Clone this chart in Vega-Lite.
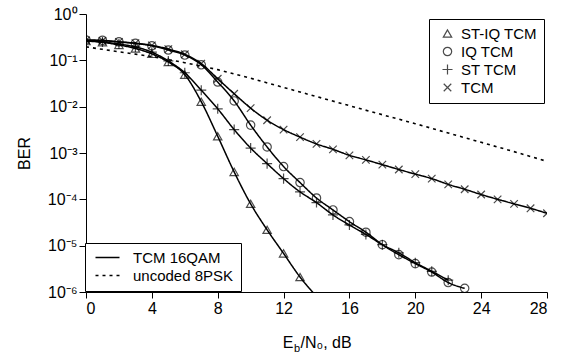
{
  "$schema": "https://vega.github.io/schema/vega-lite/v6.json",
  "width": 461,
  "height": 278,
  "autosize": {"type": "none"},
  "padding": {"left": 86, "top": 14, "right": 15, "bottom": 60},
  "config": {
    "view": {"stroke": null},
    "font": "Liberation Sans",
    "axis": {"grid": false, "domainColor": "black", "tickColor": "black", "labelColor": "black", "titleColor": "black", "titleFontWeight": "normal", "labelFont": "Liberation Sans", "titleFont": "Liberation Sans"},
    "legend": {"labelFont": "Liberation Sans", "labelColor": "black"}
  },
  "data": {"values": [
    {"s":"ST-IQ TCM","t":"TCM 16QAM","x":0,"y":0.26},{"s":"ST-IQ TCM","t":"TCM 16QAM","x":1,"y":0.245},{"s":"ST-IQ TCM","t":"TCM 16QAM","x":2,"y":0.215},{"s":"ST-IQ TCM","t":"TCM 16QAM","x":3,"y":0.18},{"s":"ST-IQ TCM","t":"TCM 16QAM","x":4,"y":0.138},{"s":"ST-IQ TCM","t":"TCM 16QAM","x":5,"y":0.092},{"s":"ST-IQ TCM","t":"TCM 16QAM","x":6,"y":0.049},{"s":"ST-IQ TCM","t":"TCM 16QAM","x":7,"y":0.0128},{"s":"ST-IQ TCM","t":"TCM 16QAM","x":8,"y":0.0023},{"s":"ST-IQ TCM","t":"TCM 16QAM","x":9,"y":0.00039},{"s":"ST-IQ TCM","t":"TCM 16QAM","x":10,"y":0.00008},{"s":"ST-IQ TCM","t":"TCM 16QAM","x":11,"y":0.000022},{"s":"ST-IQ TCM","t":"TCM 16QAM","x":12,"y":0.0000068},{"s":"ST-IQ TCM","t":"TCM 16QAM","x":13,"y":0.0000021},{"s":"ST-IQ TCM","t":"TCM 16QAM","x":14,"y":0.0000008},
    {"s":"IQ TCM","t":"TCM 16QAM","x":0,"y":0.275},{"s":"IQ TCM","t":"TCM 16QAM","x":1,"y":0.27},{"s":"IQ TCM","t":"TCM 16QAM","x":2,"y":0.25},{"s":"IQ TCM","t":"TCM 16QAM","x":3,"y":0.232},{"s":"IQ TCM","t":"TCM 16QAM","x":4,"y":0.206},{"s":"IQ TCM","t":"TCM 16QAM","x":5,"y":0.167},{"s":"IQ TCM","t":"TCM 16QAM","x":6,"y":0.13},{"s":"IQ TCM","t":"TCM 16QAM","x":7,"y":0.08},{"s":"IQ TCM","t":"TCM 16QAM","x":8,"y":0.034},{"s":"IQ TCM","t":"TCM 16QAM","x":9,"y":0.0133},{"s":"IQ TCM","t":"TCM 16QAM","x":10,"y":0.004},{"s":"IQ TCM","t":"TCM 16QAM","x":11,"y":0.00135},{"s":"IQ TCM","t":"TCM 16QAM","x":12,"y":0.00051},{"s":"IQ TCM","t":"TCM 16QAM","x":13,"y":0.00023},{"s":"IQ TCM","t":"TCM 16QAM","x":14,"y":0.000107},{"s":"IQ TCM","t":"TCM 16QAM","x":15,"y":0.000059},{"s":"IQ TCM","t":"TCM 16QAM","x":16,"y":0.000033},{"s":"IQ TCM","t":"TCM 16QAM","x":17,"y":0.0000195},{"s":"IQ TCM","t":"TCM 16QAM","x":18,"y":0.0000105},{"s":"IQ TCM","t":"TCM 16QAM","x":19,"y":0.0000064},{"s":"IQ TCM","t":"TCM 16QAM","x":20,"y":0.0000041},{"s":"IQ TCM","t":"TCM 16QAM","x":21,"y":0.0000027},{"s":"IQ TCM","t":"TCM 16QAM","x":22,"y":0.0000016},{"s":"IQ TCM","t":"TCM 16QAM","x":23,"y":0.0000012},
    {"s":"ST TCM","t":"TCM 16QAM","x":0,"y":0.265},{"s":"ST TCM","t":"TCM 16QAM","x":1,"y":0.25},{"s":"ST TCM","t":"TCM 16QAM","x":2,"y":0.225},{"s":"ST TCM","t":"TCM 16QAM","x":3,"y":0.195},{"s":"ST TCM","t":"TCM 16QAM","x":4,"y":0.15},{"s":"ST TCM","t":"TCM 16QAM","x":5,"y":0.097},{"s":"ST TCM","t":"TCM 16QAM","x":6,"y":0.054},{"s":"ST TCM","t":"TCM 16QAM","x":7,"y":0.0227},{"s":"ST TCM","t":"TCM 16QAM","x":8,"y":0.009},{"s":"ST TCM","t":"TCM 16QAM","x":9,"y":0.0032},{"s":"ST TCM","t":"TCM 16QAM","x":10,"y":0.00128},{"s":"ST TCM","t":"TCM 16QAM","x":11,"y":0.00059},{"s":"ST TCM","t":"TCM 16QAM","x":12,"y":0.00028},{"s":"ST TCM","t":"TCM 16QAM","x":13,"y":0.000145},{"s":"ST TCM","t":"TCM 16QAM","x":14,"y":0.000085},{"s":"ST TCM","t":"TCM 16QAM","x":15,"y":0.000046},{"s":"ST TCM","t":"TCM 16QAM","x":16,"y":0.000028},{"s":"ST TCM","t":"TCM 16QAM","x":17,"y":0.0000175},{"s":"ST TCM","t":"TCM 16QAM","x":18,"y":0.0000105},{"s":"ST TCM","t":"TCM 16QAM","x":19,"y":0.000007},{"s":"ST TCM","t":"TCM 16QAM","x":20,"y":0.0000043},{"s":"ST TCM","t":"TCM 16QAM","x":21,"y":0.0000028},{"s":"ST TCM","t":"TCM 16QAM","x":22,"y":0.0000018},
    {"s":"TCM","t":"TCM 16QAM","x":0,"y":0.27},{"s":"TCM","t":"TCM 16QAM","x":1,"y":0.265},{"s":"TCM","t":"TCM 16QAM","x":2,"y":0.25},{"s":"TCM","t":"TCM 16QAM","x":3,"y":0.235},{"s":"TCM","t":"TCM 16QAM","x":4,"y":0.21},{"s":"TCM","t":"TCM 16QAM","x":5,"y":0.175},{"s":"TCM","t":"TCM 16QAM","x":6,"y":0.135},{"s":"TCM","t":"TCM 16QAM","x":7,"y":0.085},{"s":"TCM","t":"TCM 16QAM","x":8,"y":0.04},{"s":"TCM","t":"TCM 16QAM","x":9,"y":0.019},{"s":"TCM","t":"TCM 16QAM","x":10,"y":0.0093},{"s":"TCM","t":"TCM 16QAM","x":11,"y":0.0051},{"s":"TCM","t":"TCM 16QAM","x":12,"y":0.0032},{"s":"TCM","t":"TCM 16QAM","x":13,"y":0.0022},{"s":"TCM","t":"TCM 16QAM","x":14,"y":0.00157},{"s":"TCM","t":"TCM 16QAM","x":15,"y":0.0012},{"s":"TCM","t":"TCM 16QAM","x":16,"y":0.00089},{"s":"TCM","t":"TCM 16QAM","x":17,"y":0.00071},{"s":"TCM","t":"TCM 16QAM","x":18,"y":0.00056},{"s":"TCM","t":"TCM 16QAM","x":19,"y":0.00044},{"s":"TCM","t":"TCM 16QAM","x":20,"y":0.00035},{"s":"TCM","t":"TCM 16QAM","x":21,"y":0.00028},{"s":"TCM","t":"TCM 16QAM","x":22,"y":0.00021},{"s":"TCM","t":"TCM 16QAM","x":23,"y":0.000165},{"s":"TCM","t":"TCM 16QAM","x":24,"y":0.000127},{"s":"TCM","t":"TCM 16QAM","x":25,"y":0.0001},{"s":"TCM","t":"TCM 16QAM","x":26,"y":0.00008},{"s":"TCM","t":"TCM 16QAM","x":27,"y":0.000064},{"s":"TCM","t":"TCM 16QAM","x":28,"y":0.00005},
    {"s":"uncoded 8PSK","t":"uncoded 8PSK","x":0,"y":0.195},{"s":"uncoded 8PSK","t":"uncoded 8PSK","x":1,"y":0.173},{"s":"uncoded 8PSK","t":"uncoded 8PSK","x":2,"y":0.153},{"s":"uncoded 8PSK","t":"uncoded 8PSK","x":3,"y":0.136},{"s":"uncoded 8PSK","t":"uncoded 8PSK","x":4,"y":0.12},{"s":"uncoded 8PSK","t":"uncoded 8PSK","x":5,"y":0.104},{"s":"uncoded 8PSK","t":"uncoded 8PSK","x":6,"y":0.089},{"s":"uncoded 8PSK","t":"uncoded 8PSK","x":7,"y":0.075},{"s":"uncoded 8PSK","t":"uncoded 8PSK","x":8,"y":0.063},{"s":"uncoded 8PSK","t":"uncoded 8PSK","x":10,"y":0.041},{"s":"uncoded 8PSK","t":"uncoded 8PSK","x":12,"y":0.026},{"s":"uncoded 8PSK","t":"uncoded 8PSK","x":14,"y":0.0165},{"s":"uncoded 8PSK","t":"uncoded 8PSK","x":16,"y":0.0105},{"s":"uncoded 8PSK","t":"uncoded 8PSK","x":18,"y":0.0067},{"s":"uncoded 8PSK","t":"uncoded 8PSK","x":20,"y":0.0043},{"s":"uncoded 8PSK","t":"uncoded 8PSK","x":22,"y":0.0027},{"s":"uncoded 8PSK","t":"uncoded 8PSK","x":24,"y":0.0017},{"s":"uncoded 8PSK","t":"uncoded 8PSK","x":26,"y":0.00107},{"s":"uncoded 8PSK","t":"uncoded 8PSK","x":28,"y":0.00066}
  ]},
  "encoding": {
    "y": {
      "field": "y", "type": "quantitative",
      "scale": {"type": "log", "domain": [0.000001, 1], "nice": false},
      "axis": {
        "values": [1, 0.1, 0.01, 0.001, 0.0001, 0.00001, 0.000001],
        "labelExpr": "'10' + replace(replace(replace(replace(replace(replace(replace(replace('' + round(log(datum.value)/LN10), '-', '⁻'), '0', '⁰'), '1', '¹'), '2', '²'), '3', '³'), '4', '⁴'), '5', '⁵'), '6', '⁶')",
        "tickSize": 7, "labelFontSize": 16, "labelPadding": 2,
        "title": "BER", "titleFontSize": 16, "titleX": -62, "titleY": 139, "titleBaseline": "middle", "titleAlign": "center"
      }
    }
  },
  "layer": [
    {
      "transform": [{"filter": "datum.t == 'uncoded 8PSK'"}],
      "mark": {"type": "line", "clip": true, "color": "black", "strokeWidth": 1.6},
      "encoding": {
        "x": {"field": "x", "type": "quantitative", "scale": {"domain": [0, 28], "nice": false},
          "axis": {"orient": "bottom", "values": [0, 4, 8, 12, 16, 20, 24, 28], "tickSize": 6, "labelFontSize": 16, "labelPadding": 2,
            "title": "E", "titleFontSize": 16, "titleAlign": "right", "titleBaseline": "alphabetic", "titleX": 207, "titleY": 55}},
        "strokeDash": {"field": "t", "type": "nominal",
          "scale": {"domain": ["TCM 16QAM", "uncoded 8PSK"], "range": [[1, 0], [3, 4]]},
          "legend": {"title": null, "orient": "none", "legendX": -1, "legendY": 229, "strokeColor": "black", "fillColor": "white", "padding": 7, "labelFontSize": 15, "symbolType": "M-3,0H3", "symbolSize": 64, "symbolStrokeWidth": 1.5, "symbolStrokeColor": "black", "symbolOffset": 8, "labelOffset": 18, "rowPadding": 2}}
      }
    },
    {
      "transform": [{"filter": "datum.t == 'TCM 16QAM'"}],
      "mark": {"type": "line", "clip": true, "color": "black", "strokeWidth": 1.5, "interpolate": "monotone"},
      "encoding": {
        "x": {"field": "x", "type": "quantitative", "scale": {"domain": [0, 28], "nice": false},
          "axis": {"orient": "bottom", "domain": false, "ticks": false, "labels": false, "title": "b", "titleFontSize": 11, "titleAlign": "left", "titleBaseline": "alphabetic", "titleX": 207.5, "titleY": 59}},
        "detail": {"field": "s"},
        "strokeDash": {"field": "t", "type": "nominal",
          "scale": {"domain": ["TCM 16QAM", "uncoded 8PSK"], "range": [[1, 0], [3, 4]]}}
      }
    },
    {
      "transform": [{"filter": "datum.t == 'TCM 16QAM'"}],
      "mark": {"type": "point", "clip": true, "filled": false, "stroke": "black", "strokeWidth": 1.2, "size": 70},
      "encoding": {
        "x": {"field": "x", "type": "quantitative", "scale": {"domain": [0, 28], "nice": false},
          "axis": {"orient": "bottom", "domain": false, "ticks": false, "labels": false, "title": "/N₀, dB", "titleFontSize": 16, "titleAlign": "left", "titleBaseline": "alphabetic", "titleX": 214, "titleY": 55}},
        "shape": {"field": "s", "type": "nominal",
          "scale": {"domain": ["ST-IQ TCM", "IQ TCM", "ST TCM", "TCM"], "range": ["triangle-up", "circle", "M-1.2,0H1.2M0,-1.2V1.2", "M-0.9,-0.9L0.9,0.9M-0.9,0.9L0.9,-0.9"]},
          "legend": {"title": null, "orient": "none", "legendX": 343, "legendY": 5, "strokeColor": "black", "fillColor": "white", "padding": 7, "labelFontSize": 15, "symbolSize": 70, "symbolStrokeWidth": 1.2, "symbolStrokeColor": "black", "symbolFillColor": "transparent", "symbolOffset": 4, "labelOffset": 6, "rowPadding": 2}}
      }
    }
  ],
  "resolve": {"axis": {"x": "independent"}}
}
